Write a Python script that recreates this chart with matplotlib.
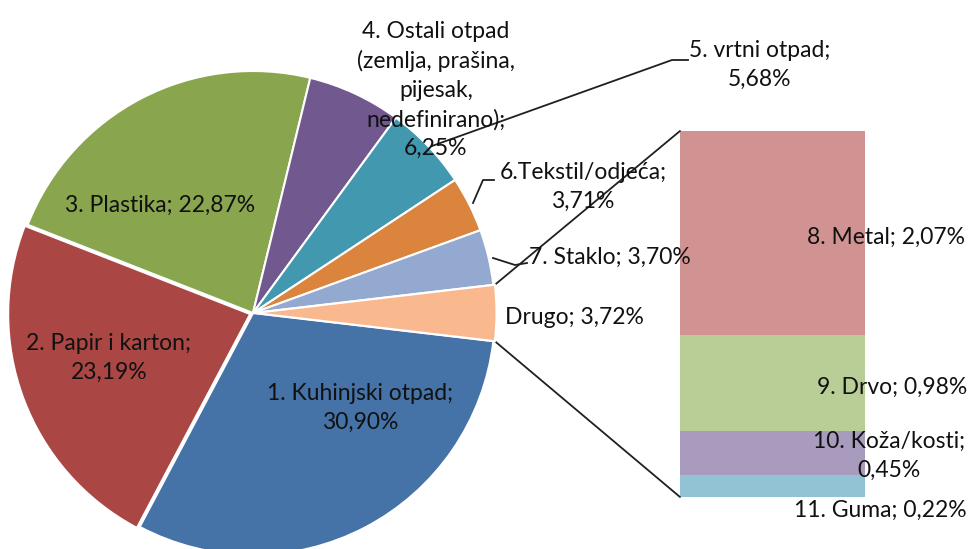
import numpy as np
import matplotlib.pyplot as plt
from matplotlib.patches import ConnectionPatch

plt.rcParams['font.family'] = ['Lato', 'DejaVu Sans']

# pie data (clockwise from the "Drugo" split on the right)
pie_names = ['1. Kuhinjski otpad', '2. Papir i karton', '3. Plastika',
             '4. Ostali otpad\n(zemlja, prašina,\npijesak,\nnedefinirano)',
             '5. vrtni otpad', '6.Tekstil/odjeća', '7. Staklo', 'Drugo']
pie_values = [30.90, 23.19, 22.87, 6.25, 5.68, 3.71, 3.70, 3.72]
pie_colors = ['#4572A7', '#AA4643', '#89A54E', '#71588F',
              '#4198AF', '#DB843D', '#93A9CF', '#F9B88E']

# bar data ("Drugo" broken down, top to bottom)
bar_names = ['8. Metal', '9. Drvo', '10. Koža/kosti', '11. Guma']
bar_values = [2.07, 0.98, 0.45, 0.22]
bar_colors = ['#D19392', '#B9CD96', '#A99BBD', '#91C3D5']


def pct(v):
    return ('%.2f%%' % v).replace('.', ',')


W, H = 969, 549
fig = plt.figure(figsize=(W / 100, H / 100), dpi=100)

# stacked bar on the right (added first so the labels sit on top of it)
ax2 = fig.add_axes([680 / W, (H - 497) / H, 185 / W, 366 / H])
bottoms = np.cumsum(bar_values[::-1])[::-1] - np.array(bar_values)
ax2.bar(0, bar_values, bottom=bottoms, width=1, color=bar_colors)
ax2.set_xlim(-0.5, 0.5)
ax2.set_ylim(0, sum(bar_values))
ax2.axis('off')

ax = fig.add_axes([0, 0, 1, 1])
ax.set_zorder(3)

cx, cy, r = 253, H - 313, 242
start = -pie_values[-1] / sum(pie_values) * 360 / 2
explode = [0, 3, 0, 0, 0, 0, 0, 1.5]
wedges, _ = ax.pie(pie_values, colors=pie_colors, center=(cx, cy), radius=r,
                   startangle=start, counterclock=False, explode=explode,
                   wedgeprops=dict(edgecolor='white', linewidth=1.5), frame=True)
ax.set_xlim(0, W)
ax.set_ylim(0, H)
ax.set_aspect('equal')
ax.axis('off')

# connector lines from the "Drugo" wedge to the bar
w = wedges[-1]
wx, wy = w.center
t_hi = np.radians(max(w.theta1, w.theta2))
t_lo = np.radians(min(w.theta1, w.theta2))
for t, yb in [(t_hi, sum(bar_values)), (t_lo, 0)]:
    con = ConnectionPatch(xyA=(wx + r * np.cos(t), wy + r * np.sin(t)), coordsA=ax.transData,
                          xyB=(-0.5, yb), coordsB=ax2.transData, color='#202020', lw=1.3)
    fig.add_artist(con)

fs = 16.5
tc = '#111111'


def lab(x, y, s, **kw):
    ax.text(x, H - y, s, fontsize=fs, color=tc, ha='center', va='center',
            linespacing=1.45, **kw)


lab(360, 408, pie_names[0] + ';\n' + pct(pie_values[0]))
lab(109, 358, pie_names[1] + ';\n' + pct(pie_values[1]))
lab(160, 205, pie_names[2] + '; ' + pct(pie_values[2]))
lab(436, 90, pie_names[3] + ';\n' + pct(pie_values[3]))
lab(760, 65, pie_names[4] + ';\n' + pct(pie_values[4]))
lab(583, 187, pie_names[5] + ';\n' + pct(pie_values[5]))
lab(610, 257, pie_names[6] + '; ' + pct(pie_values[6]))
lab(574, 317, pie_names[7] + '; ' + pct(pie_values[7]))

lab(886, 237, bar_names[0] + '; ' + pct(bar_values[0]))
lab(892, 387, bar_names[1] + '; ' + pct(bar_values[1]))
lab(889, 456, bar_names[2] + ';\n' + pct(bar_values[2]))
lab(880, 510, bar_names[3] + '; ' + pct(bar_values[3]))

# leader lines for the small outside labels
leaders = [
    ([432, 672, 688], [146, 60, 60]),
    ([473, 483, 494], [203, 180, 180]),
    ([493, 515, 527], [258, 265, 263]),
]
for xs, ys in leaders:
    ax.plot(xs, [H - y for y in ys], color='#202020', lw=1.3)

fig.savefig('out.png', dpi=100)
